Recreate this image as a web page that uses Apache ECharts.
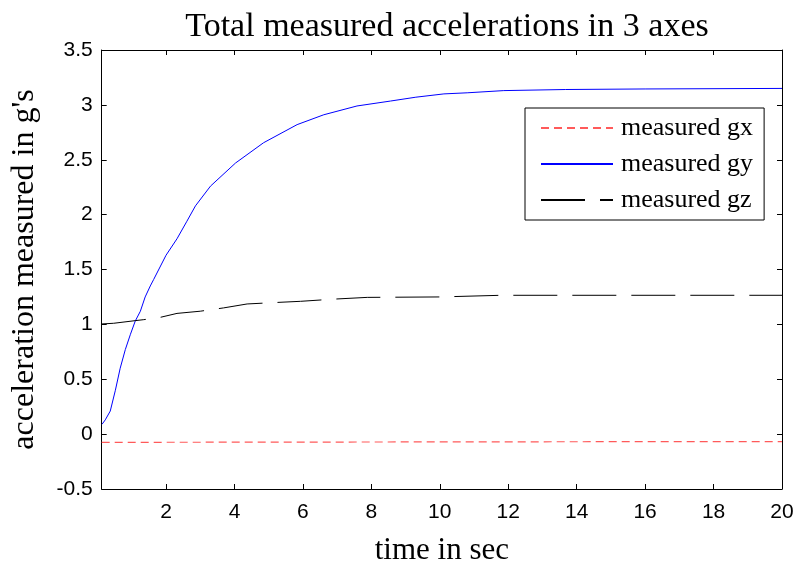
<!DOCTYPE html>
<html>
<head>
<meta charset="utf-8">
<script src="https://cdn.jsdelivr.net/npm/echarts@6/dist/echarts.min.js"></script>
<style>html,body{margin:0;padding:0;background:#fff;}#c{width:799px;height:562px;}</style>
</head>
<body>
<div id="c"></div>
<script>
// ---- data ----
const seriesNames = ['measured gx', 'measured gy', 'measured gz'];

const gxTime   = [0.12, 5, 10, 15, 20];
const gxValues = [-0.075, -0.073, -0.071, -0.069, -0.068];

const gyTime   = [0.13, 0.225, 0.37, 0.52, 0.66, 0.81, 0.96, 1.10, 1.25, 1.39, 1.54, 1.64, 2.0, 2.32, 2.61, 2.86, 3.30, 4.03, 4.85, 5.83, 6.61, 7.58, 8.56, 9.3, 10.12, 10.80, 11.87, 13.68, 16, 20];
const gyValues = [0.09, 0.13, 0.21, 0.40, 0.60, 0.77, 0.91, 1.03, 1.12, 1.25, 1.35, 1.41, 1.63, 1.78, 1.94, 2.08, 2.26, 2.47, 2.655, 2.82, 2.91, 2.99, 3.035, 3.07, 3.10, 3.11, 3.13, 3.14, 3.145, 3.15];

const gzTime   = [0.13, 0.47, 1.10, 1.35, 1.83, 2.32, 3.0, 3.68, 4.37, 5.25, 5.93, 6.9, 7.88, 10, 11.8, 20];
const gzValues = [1.004, 1.01, 1.034, 1.043, 1.064, 1.10, 1.12, 1.15, 1.186, 1.20, 1.21, 1.23, 1.246, 1.25, 1.265, 1.265];

const xMin = 0.12, xMax = 20;
const yMin = -0.5, yMax = 3.5, yStep = 0.5;

const zip = (a, b) => a.map((v, i) => [v, b[i]]);

const chart = echarts.init(document.getElementById('c'), null, {renderer: 'canvas'});
const labelFont = {fontFamily: 'Liberation Sans, Arial, sans-serif', fontSize: 21, color: '#000'};
const serif = 'Liberation Serif, Times New Roman, serif';
const frameLine = {show: true, onZero: false, lineStyle: {color: '#000', width: 1}};
const innerTick = {show: true, inside: true, length: 5, lineStyle: {color: '#000'}};

chart.setOption({
  animation: false,
  backgroundColor: '#fff',
  title: {
    text: 'Total measured accelerations in 3 axes',
    left: 442, top: 5, textAlign: 'center',
    textStyle: {fontFamily: serif, fontSize: 34, fontWeight: 'normal', color: '#000'}
  },
  grid: {left: 101.7, right: 17, top: 50, bottom: 73, containLabel: false, outerBoundsMode: 'none', show: false},
  legend: {
    orient: 'vertical', left: 525, top: 108,
    data: seriesNames,
    itemWidth: 72, itemHeight: 14, itemGap: 10,
    padding: [7, 11, 7, 15],
    borderColor: '#000', borderWidth: 1, backgroundColor: '#fff',
    itemStyle: {opacity: 0},
    textStyle: {fontFamily: serif, fontSize: 26, color: '#000', padding: [0, 0, 0, 3]}
  },
  xAxis: [{
    type: 'value', min: xMin, max: xMax, splitNumber: 10,
    name: 'time in sec', nameLocation: 'middle', nameGap: 46,
    nameTextStyle: {fontFamily: serif, fontSize: 31, color: '#000'},
    axisLine: frameLine, axisTick: innerTick,
    axisLabel: Object.assign({margin: 13, showMinLabel: false, formatter: v => (v < 1 ? '' : String(v))}, labelFont),
    splitLine: {show: false}
  }, {
    type: 'value', position: 'top', min: xMin, max: xMax, splitNumber: 10,
    axisLine: frameLine, axisTick: innerTick,
    axisLabel: {show: false}, splitLine: {show: false}
  }],
  yAxis: [{
    type: 'value', min: yMin, max: yMax, interval: yStep,
    name: "acceleration measured in g's", nameLocation: 'middle', nameGap: 61,
    nameTextStyle: {fontFamily: serif, fontSize: 32, color: '#000'},
    axisLine: frameLine, axisTick: innerTick,
    axisLabel: Object.assign({margin: 9}, labelFont),
    splitLine: {show: false}
  }, {
    type: 'value', position: 'right', min: yMin, max: yMax, interval: yStep,
    axisLine: frameLine, axisTick: innerTick,
    axisLabel: {show: false}, splitLine: {show: false}
  }],
  series: [{
    name: seriesNames[0], type: 'line', symbol: 'none', data: zip(gxTime, gxValues),
    itemStyle: {color: '#ff5a5a'},
    lineStyle: {color: '#ff5a5a', width: 1.2, type: [8, 5]}
  }, {
    name: seriesNames[1], type: 'line', symbol: 'none', data: zip(gyTime, gyValues),
    itemStyle: {color: '#0000ff'},
    lineStyle: {color: '#0000ff', width: 1}
  }, {
    name: seriesNames[2], type: 'line', symbol: 'none', data: zip(gzTime, gzValues),
    itemStyle: {color: '#000'},
    lineStyle: {color: '#000', width: 1, type: [44, 15]}
  }]
});
</script>
</body>
</html>
